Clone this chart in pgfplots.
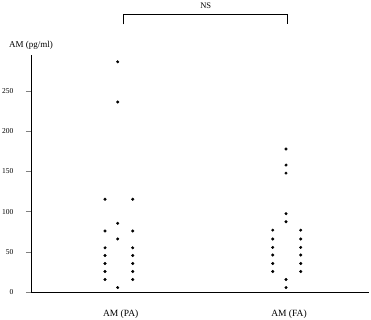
\documentclass[border=0pt]{standalone}
\usepackage{fontspec}
\setmainfont{Liberation Serif}
\usepackage{pgfplots}
\pgfplotsset{compat=1.18}
\pgfplotsset{dots/.style={only marks, mark=*, mark size=1.3pt, color=black, mark options={solid, fill=black}}}
\begin{document}
\begin{tikzpicture}[x=1pt,y=1pt]
\begin{axis}[
  scale only axis,
  width=338pt, height=237pt,
  xmin=0.482, xmax=2.494,
  ymin=0, ymax=295,
  axis lines*=left,
  axis line style={line width=0.8pt},
  clip=false,
  xtick={1.016,2.018},
  xticklabels={AM (PA), AM (FA)},
  x tick style={draw=none},
  xticklabel style={font=\fontsize{9.5}{11}\selectfont, yshift=-9pt},
  ytick={0,50,100,150,200,250},
  tick align=outside,
  major tick length=5pt,
  y tick style={line width=0.6pt},
  yticklabel style={font=\fontsize{7.5}{9}\selectfont, xshift=-9pt},
  /pgf/number format/assume math mode=true,
]
% PA left
\addplot[dots] coordinates {(0.9226,115.5)(0.9226,76)(0.9226,55)(0.9226,45.5)(0.9226,35.5)(0.9226,25.5)(0.9226,15.5)};
% PA middle
\addplot[dots] coordinates {(0.998,286.5)(0.998,236.5)(0.998,85.5)(0.998,66)(0.998,5.5)};
% PA right
\addplot[dots] coordinates {(1.0875,115.5)(1.0875,76)(1.0875,55)(1.0875,45.5)(1.0875,35.5)(1.0875,25.5)(1.0875,15.5)};
% FA left
\addplot[dots] coordinates {(1.921,77)(1.921,66)(1.921,55.5)(1.921,46)(1.921,35.5)(1.921,25.5)};
% FA middle
\addplot[dots] coordinates {(2.0,178)(2.0,158)(2.0,148)(2.0,97.5)(2.0,87.5)(2.0,15.5)(2.0,5.5)};
% FA right
\addplot[dots] coordinates {(2.0875,77)(2.0875,66)(2.0875,55.5)(2.0875,46)(2.0875,35.5)(2.0875,25.5)};
% NS bracket
\draw[line width=0.7pt] (axis cs:1.034,333) -- (axis cs:1.034,346) -- (axis cs:2.01,346) -- (axis cs:2.01,333);
\node[anchor=south, font=\fontsize{8.5}{10}\selectfont, inner sep=0pt] at (axis cs:1.522,352.5) {NS};
\node[font=\fontsize{9}{10}\selectfont] at ([yshift=10pt]rel axis cs:0,1) {AM (pg/ml)};
\end{axis}
\pgfresetboundingbox
\useasboundingbox ([xshift=-31pt,yshift=-27pt]current axis.south west) rectangle ([xshift=2pt,yshift=55pt]current axis.north east);
\end{tikzpicture}
\end{document}
